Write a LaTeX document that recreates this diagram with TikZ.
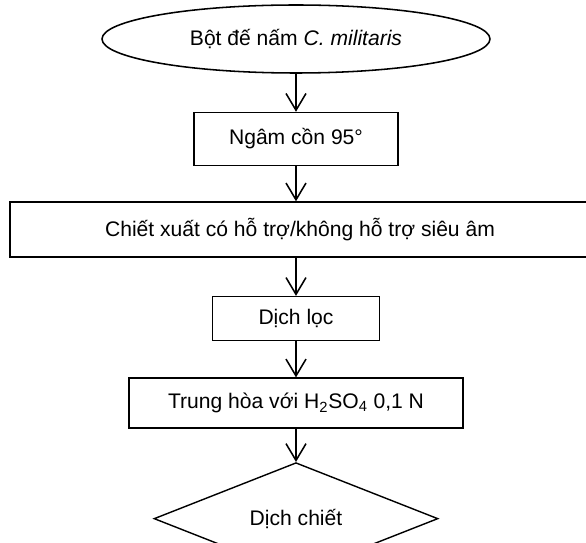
\documentclass[tikz,border=0pt]{standalone}
\usepackage{fontspec}
\setmainfont{Liberation Sans}
\usepackage{tikz}
\usetikzlibrary{positioning, arrows.meta, shapes.geometric}

\begin{document}
\begin{tikzpicture}[
    node distance=0.9cm,
    every node/.style={font=\fontsize{15}{18}\selectfont},
    startnode/.style={draw, ellipse, line width=1.1pt, minimum width=9.7cm, minimum height=1.7cm, inner sep=0pt},
    stepbox/.style={draw, line width=1.1pt, minimum width=#1, inner sep=2pt},
    endnode/.style={draw, diamond, line width=1pt, minimum width=7.1cm, minimum height=2.3cm, inner sep=0pt},
    arrow/.style={-{Straight Barb[length=0.42cm, width=0.5cm]}, line width=1.1pt},
  ]
  \useasboundingbox (0,0) rectangle (14.65,-13.575);

  % ---- Start ----
  \node[startnode] (bot) at (7.4,-0.975) {Bột đế nấm \textit{C. militaris}};

  % ---- Steps ----
  \node[stepbox=5.1cm, minimum height=1.325cm, below=0.95cm of bot] (ngam) {Ngâm cồn 95°};
  \node[stepbox=14.5cm, minimum height=1.375cm, below=0.875cm of ngam, xshift=0.1cm] (chiet) {Chiết xuất có hỗ trợ/không hỗ trợ siêu âm};
  \node[stepbox=4.175cm, minimum height=1.1cm, below=0.95cm of chiet, xshift=-0.1cm] (loc) {Dịch lọc};
  \node[stepbox=8.35cm, minimum height=1.25cm, below=0.9cm of loc] (trung) {Trung hòa với H\textsubscript{2}SO\textsubscript{4} 0,1 N};

  % ---- End ----
  \node[endnode, below=0.825cm of trung] (dich) {Dịch chiết};

  % ---- Arrows ----
  \draw[arrow] (bot) -- (ngam);
  \draw[arrow] (ngam.south) -- (ngam.south |- chiet.north);
  \draw[arrow] (loc.north |- chiet.south) -- (loc.north);
  \draw[arrow] (loc) -- (trung);
  \draw[arrow] (trung) -- (dich);

\end{tikzpicture}
\end{document}
